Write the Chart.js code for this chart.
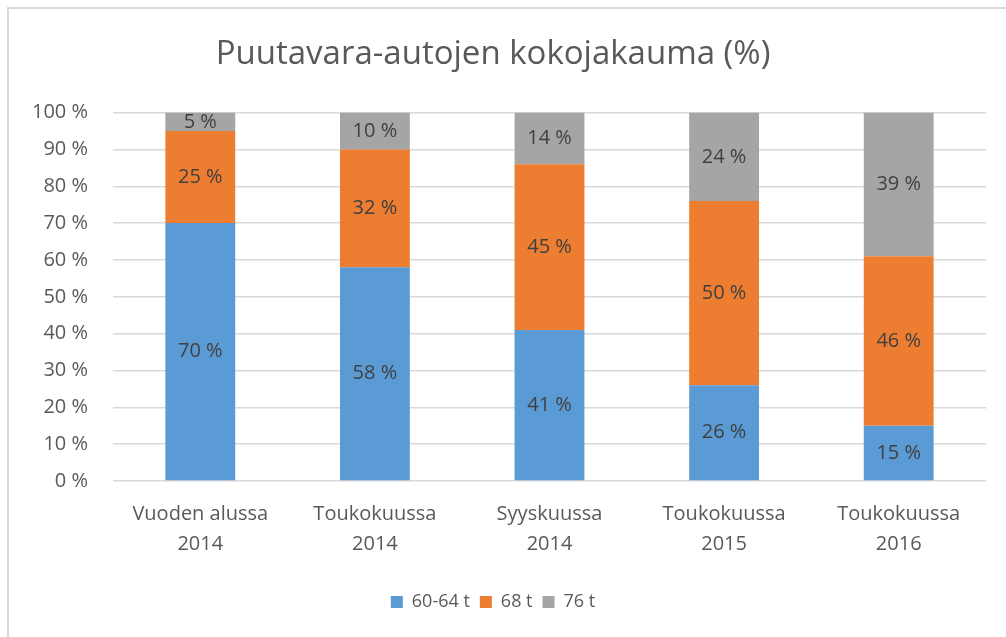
<!DOCTYPE html>
<html>
<head>
<meta charset="utf-8">
<script src="https://cdn.jsdelivr.net/npm/chart.js@4/dist/chart.umd.min.js"></script>
<style>
html,body{margin:0;padding:0;background:#fff;}
#wrap{position:absolute;left:0;top:0;width:1006px;height:637px;}
#frame{position:absolute;left:7px;top:7px;width:999px;height:630px;border-left:2px solid #d9d9d9;border-top:2px solid #d9d9d9;box-sizing:border-box;}
</style>
</head>
<body>
<div id="wrap">
<div id="frame"></div>
<canvas id="chartSizes" width="1006" height="637"></canvas>
</div>
<script>
// categories (two-line labels)
const categories = [
  ['Vuoden alussa', '2014'],
  ['Toukokuussa', '2014'],
  ['Syyskuussa', '2014'],
  ['Toukokuussa', '2015'],
  ['Toukokuussa', '2016']
];
const seriesNames = ['60-64 t', '68 t', '76 t'];
const share6064 = [70, 58, 41, 26, 15];
const share68 = [25, 32, 45, 50, 46];
const share76 = [5, 10, 14, 24, 39];
const yTicks = [0, 10, 20, 30, 40, 50, 60, 70, 80, 90, 100];

const fontFam = '"Open Sans", Lato, sans-serif';

// draws the value inside each bar segment
const segmentLabels = {
  id: 'segmentLabels',
  afterDatasetsDraw(chart) {
    const ctx = chart.ctx;
    ctx.save();
    ctx.font = '20px ' + fontFam;
    ctx.fillStyle = '#404040';
    ctx.textAlign = 'center';
    ctx.textBaseline = 'middle';
    chart.data.datasets.forEach((ds, i) => {
      const meta = chart.getDatasetMeta(i);
      meta.data.forEach((bar, j) => {
        const p = bar.getProps(['x', 'y', 'base'], true);
        ctx.fillText(ds.data[j] + ' %', p.x, (p.y + p.base) / 2);
      });
    });
    ctx.restore();
  }
};

const chartSizes = new Chart(document.getElementById('chartSizes'), {
  type: 'bar',
  data: {
    labels: categories,
    datasets: [
      {label: seriesNames[0], data: share6064, backgroundColor: '#5B9BD5'},
      {label: seriesNames[1], data: share68, backgroundColor: '#ED7D31'},
      {label: seriesNames[2], data: share76, backgroundColor: '#A5A5A5'}
    ]
  },
  options: {
    responsive: false,
    animation: false,
    layout: {padding: {top: 0, left: 0, right: 20, bottom: 16}},
    datasets: {bar: {barPercentage: 0.4, categoryPercentage: 1.0, borderWidth: 0}},
    scales: {
      x: {
        stacked: true,
        grid: {display: false, drawTicks: false},
        border: {display: false},
        ticks: {color: '#595959', padding: 18, font: {family: fontFam, size: 20, lineHeight: 1.5}, maxRotation: 0},
        afterFit: (s) => { s.height = 102; }
      },
      y: {
        stacked: true,
        min: 0,
        max: 100,
        afterBuildTicks: (s) => { s.ticks = yTicks.map(v => ({value: v})); },
        grid: {color: '#d9d9d9', lineWidth: 1.5, drawTicks: false},
        border: {display: false},
        ticks: {color: '#595959', padding: 25, font: {family: fontFam, size: 20},
          callback: (v) => v + ' %'},
        afterFit: (s) => { s.width = 113; }
      }
    },
    plugins: {
      title: {display: true, text: 'Puutavara-autojen kokojakauma (%)', color: '#595959',
        font: {family: fontFam, size: 33, weight: 'normal'}, padding: {top: 35, bottom: 38}},
      legend: {position: 'bottom',
        labels: {color: '#595959', boxWidth: 12, boxHeight: 12, padding: 10,
          font: {family: fontFam, size: 18}}},
      tooltip: {enabled: false}
    }
  },
  plugins: [segmentLabels]
});
</script>
</body>
</html>
